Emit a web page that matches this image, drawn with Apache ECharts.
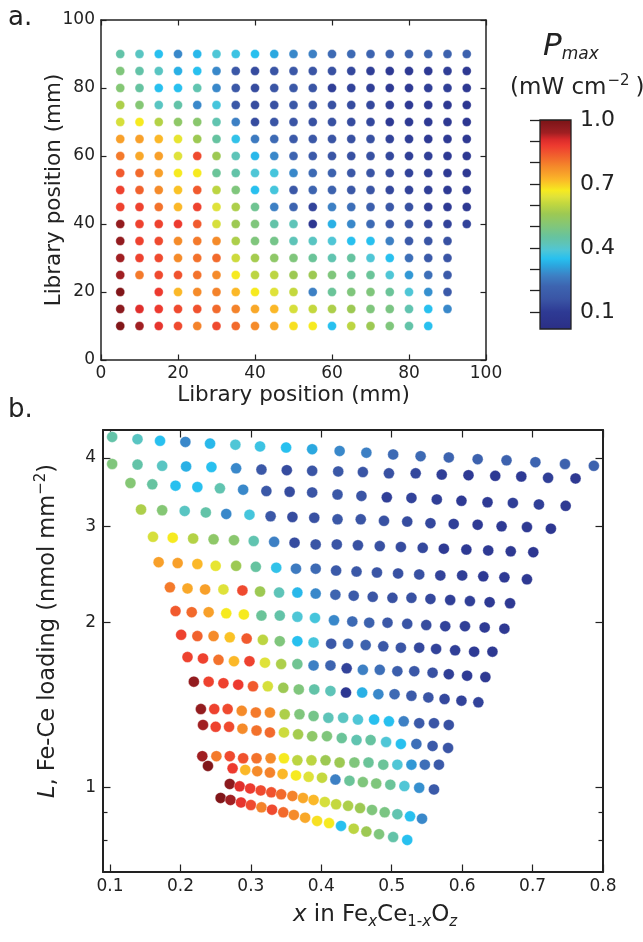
<!DOCTYPE html>
<html>
<head>
<meta charset="utf-8">
<script src="https://cdn.jsdelivr.net/npm/echarts@6/dist/echarts.min.js"></script>
<style>
  html, body { margin: 0; padding: 0; background: #fff; }
  #chart { width: 643px; height: 942px; }
</style>
</head>
<body>
<div id="chart"></div>
<script>
// library positions (mm)
const libX = [5, 10, 15, 20, 25, 30, 35, 40, 45, 50, 55, 60, 65, 70, 75, 80, 85, 90, 95];
const rowsY = [90, 85, 80, 75, 70, 65, 60, 55, 50, 45, 40, 35, 30, 25, 20, 15, 10];

// Pmax (mW cm-2) per library row, left to right
const pmax90 = [0.44,0.41,0.35,0.28,0.34,0.39,0.37,0.35,0.32,0.28,0.27,0.23,0.23,0.22,0.21,0.21,0.22,0.21,0.21];
const pmax85 = [0.50,0.44,0.41,0.33,0.35,0.28,0.17,0.14,0.16,0.17,0.16,0.15,0.13,0.11,0.10,0.10,0.10,0.11,0.09];
const pmax80 = [0.51,0.45,0.35,0.35,0.43,0.28,0.17,0.14,0.16,0.17,0.16,0.11,0.12,0.11,0.10,0.10,0.11,0.11,0.09];
const pmax75 = [0.58,0.51,0.41,0.44,0.28,0.38,0.17,0.14,0.15,0.17,0.16,0.15,0.14,0.13,0.11,0.10,0.10,0.09,0.08];
const pmax70 = [0.63,0.67,0.59,0.53,0.52,0.43,0.27,0.14,0.16,0.16,0.15,0.15,0.14,0.13,0.10,0.10,0.10,0.09,0.08];
const pmax65 = [0.75,0.75,0.72,0.65,0.56,0.45,0.36,0.26,0.23,0.18,0.17,0.16,0.15,0.15,0.12,0.11,0.10,0.10,0.09];
const pmax60 = [0.80,0.74,0.75,0.64,0.86,0.56,0.42,0.34,0.28,0.22,0.18,0.16,0.15,0.15,0.13,0.11,0.11,0.10,0.09];
const pmax55 = [0.84,0.82,0.75,0.67,0.67,0.46,0.44,0.39,0.38,0.28,0.23,0.21,0.17,0.16,0.14,0.12,0.11,0.10,0.09];
const pmax50 = [0.87,0.83,0.78,0.71,0.84,0.60,0.50,0.35,0.38,0.17,0.22,0.21,0.17,0.16,0.13,0.12,0.11,0.10,0.09];
const pmax45 = [0.87,0.87,0.81,0.72,0.87,0.64,0.58,0.47,0.27,0.22,0.12,0.27,0.24,0.20,0.17,0.15,0.11,0.10,0.09];
const pmax40 = [0.96,0.87,0.87,0.88,0.84,0.63,0.56,0.50,0.44,0.42,0.08,0.33,0.28,0.23,0.18,0.16,0.13,0.12,0.12];
const pmax35 = [0.96,0.87,0.86,0.78,0.80,0.78,0.58,0.50,0.48,0.42,0.41,0.39,0.35,0.35,0.27,0.18,0.16,0.15];
const pmax30 = [0.94,0.87,0.86,0.78,0.81,0.82,0.62,0.57,0.53,0.50,0.46,0.43,0.45,0.39,0.35,0.24,0.18,0.16];
const pmax25 = [0.94,0.80,0.86,0.85,0.81,0.78,0.67,0.60,0.60,0.56,0.56,0.50,0.46,0.46,0.39,0.30,0.24,0.18];
const pmax20 = [0.99,null,0.88,0.72,0.78,0.79,0.72,0.67,0.64,0.61,0.27,0.46,0.50,0.50,0.46,0.39,0.29,0.18];
const pmax15 = [0.97,0.90,0.88,0.86,0.85,0.82,0.79,0.74,0.72,0.63,0.61,0.58,0.56,0.50,0.49,0.43,0.35,0.28];
const pmax10 = [0.99,0.94,0.89,0.86,0.79,0.86,0.82,0.78,0.74,0.68,0.67,0.35,0.60,0.56,0.50,0.44,0.35];

// composition x in FexCe1-xOz for the same samples
const comp90 = [0.103,0.139,0.171,0.207,0.242,0.278,0.313,0.350,0.387,0.426,0.464,0.502,0.541,0.581,0.622,0.663,0.704,0.746,0.787];
const comp85 = [0.103,0.139,0.174,0.208,0.244,0.279,0.315,0.351,0.387,0.424,0.459,0.496,0.534,0.571,0.609,0.647,0.684,0.722,0.761];
const comp80 = [0.129,0.160,0.193,0.224,0.256,0.289,0.322,0.355,0.387,0.423,0.457,0.493,0.528,0.564,0.599,0.636,0.672,0.709,0.747];
const comp75 = [0.144,0.174,0.206,0.236,0.265,0.298,0.328,0.359,0.390,0.423,0.456,0.489,0.522,0.555,0.588,0.622,0.656,0.692,0.726];
const comp70 = [0.161,0.189,0.218,0.247,0.276,0.304,0.333,0.362,0.392,0.422,0.452,0.483,0.513,0.544,0.574,0.606,0.637,0.669,0.701];
const comp65 = [0.169,0.196,0.224,0.250,0.279,0.307,0.336,0.364,0.392,0.421,0.450,0.479,0.509,0.539,0.569,0.600,0.630,0.660,0.692];
const comp60 = [0.185,0.210,0.235,0.261,0.288,0.313,0.340,0.366,0.392,0.420,0.446,0.473,0.501,0.528,0.555,0.583,0.611,0.639,0.668];
const comp55 = [0.193,0.216,0.240,0.265,0.290,0.315,0.341,0.366,0.391,0.418,0.444,0.468,0.494,0.522,0.549,0.576,0.604,0.632,0.660];
const comp50 = [0.201,0.224,0.247,0.270,0.294,0.317,0.341,0.366,0.389,0.414,0.438,0.463,0.488,0.513,0.539,0.563,0.590,0.617,0.643];
const comp45 = [0.210,0.232,0.254,0.276,0.298,0.320,0.343,0.366,0.389,0.413,0.436,0.459,0.483,0.508,0.532,0.558,0.581,0.607,0.633];
const comp40 = [0.219,0.240,0.261,0.282,0.303,0.324,0.346,0.368,0.390,0.413,0.435,0.458,0.481,0.504,0.528,0.552,0.575,0.599,0.623];
const comp35 = [0.229,0.248,0.267,0.287,0.307,0.327,0.348,0.369,0.389,0.410,0.431,0.452,0.475,0.496,0.517,0.539,0.560,0.581];
const comp30 = [0.232,0.250,0.269,0.288,0.308,0.327,0.347,0.367,0.387,0.408,0.429,0.450,0.470,0.492,0.513,0.535,0.558,0.580];
const comp25 = [0.231,0.251,0.270,0.289,0.308,0.328,0.347,0.366,0.386,0.406,0.426,0.447,0.467,0.488,0.508,0.528,0.547,0.567];
const comp20 = [0.239,null,0.274,0.292,0.309,0.327,0.345,0.364,0.382,0.401,0.420,0.440,0.459,0.478,0.498,0.518,0.539,0.560];
const comp15 = [0.270,0.284,0.299,0.314,0.329,0.343,0.359,0.374,0.389,0.405,0.421,0.438,0.455,0.472,0.490,0.508,0.526,0.543];
const comp10 = [0.257,0.271,0.286,0.300,0.315,0.330,0.346,0.361,0.377,0.394,0.411,0.428,0.446,0.464,0.482,0.502,0.522];

// loading L (nmol mm-2) for the same samples
const load90 = [4.37,4.33,4.30,4.28,4.25,4.23,4.20,4.18,4.15,4.12,4.09,4.06,4.03,4.01,3.98,3.96,3.93,3.90,3.87];
const load85 = [3.90,3.89,3.87,3.86,3.85,3.83,3.81,3.80,3.79,3.78,3.77,3.75,3.75,3.73,3.72,3.71,3.70,3.68,3.67];
const load80 = [3.60,3.58,3.56,3.54,3.52,3.50,3.48,3.47,3.46,3.43,3.41,3.39,3.38,3.36,3.34,3.32,3.31,3.29,3.27];
const load75 = [3.22,3.21,3.20,3.18,3.16,3.15,3.13,3.12,3.11,3.09,3.09,3.07,3.06,3.04,3.03,3.02,3.00,2.99,2.97];
const load70 = [2.87,2.86,2.85,2.84,2.83,2.82,2.81,2.80,2.78,2.78,2.77,2.76,2.75,2.74,2.73,2.72,2.71,2.70,2.69];
const load65 = [2.58,2.57,2.56,2.54,2.54,2.53,2.52,2.51,2.51,2.49,2.48,2.47,2.46,2.45,2.44,2.44,2.43,2.42,2.40];
const load60 = [2.32,2.31,2.30,2.30,2.29,2.28,2.27,2.27,2.26,2.25,2.24,2.23,2.22,2.22,2.21,2.20,2.19,2.18,2.17];
const load55 = [2.10,2.09,2.09,2.08,2.07,2.06,2.06,2.05,2.04,2.02,2.01,2.00,2.00,1.99,1.98,1.97,1.97,1.96,1.95];
const load50 = [1.90,1.89,1.89,1.88,1.87,1.86,1.85,1.85,1.84,1.83,1.83,1.82,1.81,1.80,1.80,1.79,1.78,1.77,1.77];
const load45 = [1.73,1.72,1.71,1.70,1.70,1.69,1.68,1.68,1.67,1.67,1.65,1.64,1.64,1.63,1.63,1.62,1.61,1.60,1.59];
const load40 = [1.56,1.56,1.55,1.54,1.53,1.53,1.52,1.51,1.51,1.50,1.49,1.49,1.48,1.48,1.47,1.46,1.45,1.44,1.43];
const load35 = [1.39,1.39,1.39,1.38,1.37,1.37,1.36,1.36,1.35,1.34,1.34,1.33,1.33,1.32,1.32,1.31,1.31,1.30];
const load30 = [1.30,1.29,1.29,1.28,1.27,1.26,1.26,1.25,1.24,1.24,1.23,1.22,1.22,1.21,1.20,1.20,1.19,1.18];
const load25 = [1.14,1.14,1.14,1.13,1.13,1.13,1.13,1.12,1.12,1.12,1.11,1.11,1.11,1.10,1.10,1.10,1.10,1.10];
const load20 = [1.094,null,1.083,1.076,1.070,1.064,1.058,1.051,1.045,1.041,1.033,1.028,1.022,1.016,1.011,1.005,0.998,0.991];
const load15 = [1.014,1.004,0.995,0.987,0.979,0.971,0.964,0.956,0.948,0.940,0.931,0.925,0.916,0.909,0.900,0.893,0.885,0.876];
const load10 = [0.956,0.948,0.938,0.928,0.919,0.910,0.900,0.890,0.880,0.868,0.860,0.850,0.840,0.830,0.821,0.811,0.801];

// axis ticks
const compTicks = [0.1, 0.2, 0.3, 0.4, 0.5, 0.6, 0.7, 0.8];
const loadTicks = [1, 2, 3, 4];
const loadMinorTicks = [0.8, 0.9];
const cbTicks = [0.1, 0.2, 0.3, 0.4, 0.5, 0.6, 0.7, 0.8, 0.9, 1.0];
const cbLabels = [0.1, 0.4, 0.7, 1.0];
const cbMin = 0.02, cbMax = 1.0;

const pmaxRows = [pmax90, pmax85, pmax80, pmax75, pmax70, pmax65, pmax60, pmax55, pmax50, pmax45, pmax40, pmax35, pmax30, pmax25, pmax20, pmax15, pmax10];
const compRows = [comp90, comp85, comp80, comp75, comp70, comp65, comp60, comp55, comp50, comp45, comp40, comp35, comp30, comp25, comp20, comp15, comp10];
const loadRows = [load90, load85, load80, load75, load70, load65, load60, load55, load50, load45, load40, load35, load30, load25, load20, load15, load10];

// jet-like colour map
const cmapStops = [
  [0.02, '#2b2f86'], [0.10, '#2e3a94'], [0.16, '#3a55a5'], [0.22, '#3d64b0'], [0.27, '#3d80c4'],
  [0.32, '#2ba8e0'], [0.35, '#28c0ef'], [0.39, '#4fc6d6'], [0.42, '#5ec4b8'], [0.45, '#66c3a0'],
  [0.50, '#80c67c'], [0.56, '#9dc953'], [0.61, '#c4d83e'], [0.64, '#dfe23a'], [0.67, '#f6ea20'],
  [0.72, '#fbb828'], [0.75, '#f8a02a'], [0.78, '#f58b2a'], [0.82, '#f26a2c'], [0.86, '#ef4a2f'],
  [0.88, '#ed3a2f'], [0.91, '#d92a2b'], [0.94, '#a01f22'], [0.97, '#8c1a1e'], [1.00, '#7b1416']
];

function hexRgb(h) {
  return [parseInt(h.slice(1, 3), 16), parseInt(h.slice(3, 5), 16), parseInt(h.slice(5, 7), 16)];
}
function cmap(v) {
  const s = cmapStops;
  if (v <= s[0][0]) return s[0][1];
  for (let k = 1; k < s.length; k++) {
    if (v <= s[k][0]) {
      const t = (v - s[k - 1][0]) / (s[k][0] - s[k - 1][0]);
      const a = hexRgb(s[k - 1][1]), b = hexRgb(s[k][1]);
      return 'rgb(' + [0, 1, 2].map(j => Math.round(a[j] + (b[j] - a[j]) * t)).join(',') + ')';
    }
  }
  return s[s.length - 1][1];
}

const dataA = [], dataB = [];
rowsY.forEach((y, r) => {
  pmaxRows[r].forEach((p, i) => {
    if (p == null) return;
    dataA.push([libX[i], y, p]);
    dataB.push([compRows[r][i], loadRows[r][i], p]);
  });
});

const ink = '#222';
const font = 'DejaVu Sans';

function frameAxis(extra) {
  return Object.assign({
    axisLine: { show: true, onZero: false, lineStyle: { color: ink, width: 1.5 } },
    axisTick: { show: true, inside: true, length: 5.5, lineStyle: { color: ink, width: 1.2 } },
    axisLabel: { show: false },
    splitLine: { show: false },
    nameMoveOverlap: false
  }, extra);
}

const labelA = { show: true, fontSize: 17, color: ink, fontFamily: font };
const boxB = { color: ink, width: 2 };

const chart = echarts.init(document.getElementById('chart'), null, { renderer: 'canvas' });

chart.setOption({
  animation: false,
  textStyle: { fontFamily: font, color: ink },
  title: [
    { text: 'a.', left: 3, top: 0, textStyle: { fontSize: 26, fontWeight: 'normal', color: ink } },
    { text: 'b.', left: 3, top: 392, textStyle: { fontSize: 26, fontWeight: 'normal', color: ink } },
    {
      text: '{p|P}{s|max}', left: 538, top: 25,
      textStyle: {
        color: ink, fontWeight: 'normal',
        rich: {
          p: { fontSize: 31, fontStyle: 'italic', fontWeight: 'normal', color: ink },
          s: { fontSize: 17, fontStyle: 'italic', fontWeight: 'normal', color: ink, padding: [16, 0, 0, 0] }
        }
      }
    },
    {
      text: '(mW cm{sup|−2})', left: 505, top: 69,
      textStyle: {
        fontSize: 23, fontWeight: 'normal', color: ink,
        rich: { sup: { fontSize: 15, fontWeight: 'normal', color: ink, padding: [0, 6, 14, 1] } }
      }
    }
  ],
  grid: [
    { left: 101, top: 20, width: 385, height: 340 },
    { left: 103, top: 430, width: 500, height: 442 },
    { left: 540, top: 120, width: 31, height: 209 }
  ],
  xAxis: [
    frameAxis({
      gridIndex: 0, type: 'value', position: 'bottom', min: 0, max: 100, interval: 20,
      axisLabel: Object.assign({ margin: 5 }, labelA),
      name: 'Library position (mm)', nameLocation: 'middle', nameGap: 24,
      nameTextStyle: { fontSize: 21.5, color: ink }
    }),
    frameAxis({ gridIndex: 0, type: 'value', position: 'top', min: 0, max: 100, interval: 20 }),
    frameAxis({
      gridIndex: 1, type: 'value', position: 'bottom', min: 0.09, max: 0.8,
      axisLine: { show: true, onZero: false, lineStyle: boxB },
      axisTick: { show: true, inside: true, length: 7.5, customValues: compTicks, lineStyle: { color: ink, width: 1.2 } },
      axisLabel: Object.assign({ margin: 6, customValues: compTicks, formatter: v => v.toFixed(1) }, labelA),
      name: '{i|x} in Fe{si|x}Ce{s|1-}{si|x}O{si|z}', nameLocation: 'middle', nameGap: 29,
      nameTextStyle: {
        fontSize: 23, color: ink, padding: [0, 0, 0, 44],
        rich: {
          i: { fontSize: 23, fontStyle: 'italic', color: ink },
          s: { fontSize: 15, color: ink, padding: [14, 0, 0, 0] },
          si: { fontSize: 15, fontStyle: 'italic', color: ink, padding: [14, 0, 0, 0] }
        }
      }
    }),
    frameAxis({
      gridIndex: 1, type: 'value', position: 'top', min: 0.09, max: 0.8,
      axisLine: { show: true, onZero: false, lineStyle: boxB },
      axisTick: { show: true, inside: true, length: 7.5, customValues: compTicks, lineStyle: { color: ink, width: 1.2 } }
    }),
    { gridIndex: 2, type: 'value', min: 0, max: 1, show: false }
  ],
  yAxis: [
    frameAxis({
      gridIndex: 0, type: 'value', position: 'left', min: 0, max: 100, interval: 20,
      axisLabel: Object.assign({ margin: 6 }, labelA),
      name: 'Library position (mm)', nameLocation: 'middle', nameGap: 36,
      nameTextStyle: { fontSize: 21.5, color: ink }
    }),
    frameAxis({ gridIndex: 0, type: 'value', position: 'right', min: 0, max: 100, interval: 20 }),
    frameAxis({
      gridIndex: 1, type: 'log', logBase: 10, position: 'left', min: 0.7, max: 4.5,
      axisLine: { show: true, onZero: false, lineStyle: boxB },
      axisTick: { show: true, inside: true, length: 7.5, customValues: loadTicks, lineStyle: { color: ink, width: 1.2 } },
      axisLabel: Object.assign({ margin: 7, customValues: loadTicks, formatter: v => String(v) }, labelA),
      name: '{i|L}, Fe-Ce loading (nmol mm{sup|−2})', nameLocation: 'middle', nameGap: 40,
      nameTextStyle: {
        fontSize: 22.5, color: ink, padding: [0, 0, 0, 40],
        rich: {
          i: { fontSize: 22.5, fontStyle: 'italic', color: ink },
          sup: { fontSize: 15, color: ink, padding: [0, 0, 14, 0] }
        }
      }
    }),
    frameAxis({
      gridIndex: 1, type: 'log', logBase: 10, position: 'left', min: 0.7, max: 4.5,
      axisLine: { show: false },
      axisTick: { show: true, inside: true, length: 4.5, customValues: loadMinorTicks, lineStyle: { color: ink, width: 1.2 } }
    }),
    frameAxis({
      gridIndex: 1, type: 'log', logBase: 10, position: 'right', min: 0.7, max: 4.5,
      axisLine: { show: true, onZero: false, lineStyle: boxB },
      axisTick: { show: true, inside: true, length: 7.5, customValues: loadTicks, lineStyle: { color: ink, width: 1.2 } }
    }),
    frameAxis({
      gridIndex: 1, type: 'log', logBase: 10, position: 'right', min: 0.7, max: 4.5,
      axisLine: { show: false },
      axisTick: { show: true, inside: true, length: 4.5, customValues: loadMinorTicks, lineStyle: { color: ink, width: 1.2 } }
    }),
    frameAxis({
      gridIndex: 2, type: 'value', position: 'right', min: cbMin, max: cbMax,
      axisLine: { show: false },
      axisTick: { show: true, inside: true, length: 10, customValues: cbTicks, lineStyle: { color: ink, width: 1.3 } },
      axisLabel: { show: true, margin: 9, fontSize: 22, color: ink, customValues: cbLabels, formatter: v => v.toFixed(1) }
    })
  ],
  series: [
    {
      type: 'scatter', xAxisIndex: 0, yAxisIndex: 0, data: dataA, symbolSize: 9,
      itemStyle: { color: p => cmap(p.value[2]), opacity: 1, borderColor: 'rgba(255,255,255,0.7)', borderWidth: 0.5 }
    },
    {
      type: 'scatter', xAxisIndex: 2, yAxisIndex: 2, data: dataB, symbolSize: 11,
      itemStyle: { color: p => cmap(p.value[2]), opacity: 1, borderColor: 'rgba(255,255,255,0.7)', borderWidth: 0.5 }
    },
    {
      type: 'custom', xAxisIndex: 4, yAxisIndex: 6, data: [[0, cbMin]],
      renderItem: (params, api) => {
        const p0 = api.coord([0, cbMin]);
        const p1 = api.coord([1, cbMax]);
        const shape = { x: p0[0], y: p1[1], width: p1[0] - p0[0], height: p0[1] - p1[1] };
        const stops = cmapStops.map(([v, c]) => ({ offset: (v - cbMin) / (cbMax - cbMin), color: c }));
        return {
          type: 'group',
          children: [
            { type: 'rect', shape: shape, style: { fill: new echarts.graphic.LinearGradient(0, 1, 0, 0, stops) } },
            { type: 'rect', shape: shape, style: { fill: 'none', stroke: ink, lineWidth: 1.3 } }
          ]
        };
      }
    }
  ]
});

window.addEventListener('resize', () => chart.resize());
</script>
</body>
</html>
